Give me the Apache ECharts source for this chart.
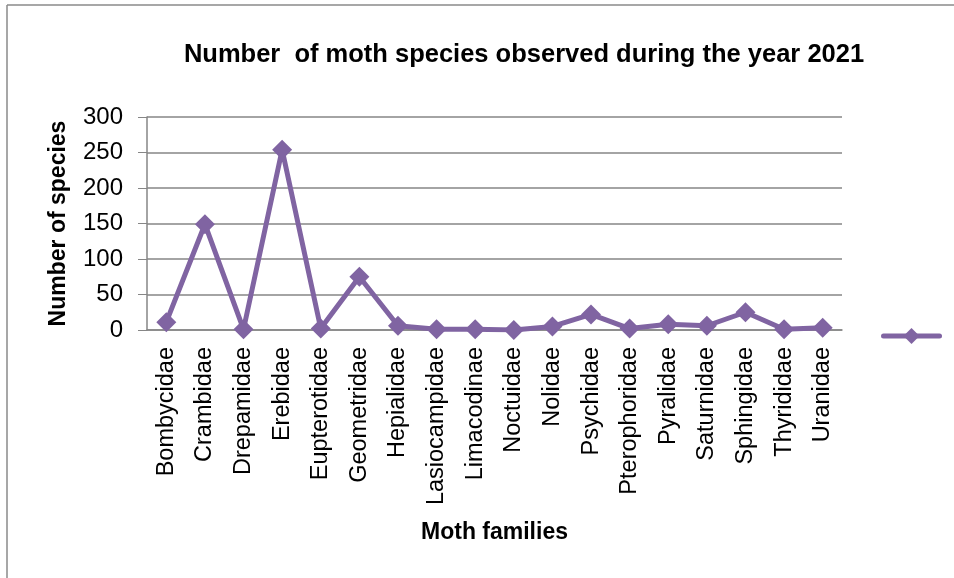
<!DOCTYPE html>
<html>
<head>
<meta charset="utf-8">
<script src="https://cdn.jsdelivr.net/npm/echarts@6/dist/echarts.min.js"></script>
<style>
  html, body { margin: 0; padding: 0; background: #ffffff; }
  #chart { width: 954px; height: 578px; }
</style>
</head>
<body>
<div id="chart"></div>
<script>
// Moth families recorded in 2021 and the number of species in each
const families = [
  'Bombycidae', 'Crambidae', 'Drepamidae', 'Erebidae', 'Eupterotidae',
  'Geometridae', 'Hepialidae', 'Lasiocampidae', 'Limacodinae', 'Noctuidae',
  'Nolidae', 'Psychidae', 'Pterophoridae', 'Pyralidae', 'Saturnidae',
  'Sphingidae', 'Thyrididae', 'Uranidae'
];
const speciesCounts = [11, 149, 1, 254, 2, 75, 6, 1, 1, 0, 5, 22, 2, 8, 6, 25, 1, 3];
const yTicks = [0, 50, 100, 150, 200, 250, 300];

const purple = '#8064A2';
const font = '"Liberation Sans", Arial, sans-serif';

const chart = echarts.init(document.getElementById('chart'), null, { renderer: 'canvas' });

chart.setOption({
  backgroundColor: '#ffffff',
  animation: false,
  title: {
    text: 'Number  of moth species observed during the year 2021',
    left: 519,
    textAlign: 'center',
    top: 37,
    textStyle: { fontFamily: font, fontWeight: 'bold', fontSize: 25.5, color: '#000' }
  },
  legend: {
    left: 876,
    top: 321,
    itemWidth: 56,
    itemHeight: 20,
    itemGap: 0,
    formatter: () => '',
    lineStyle: { width: 5, cap: 'round' },
    data: ['Species']
  },
  grid: { left: 147, right: 112, top: 117, bottom: 248, containLabel: false },
  xAxis: {
    type: 'category',
    data: families,
    boundaryGap: true,
    name: 'Moth families',
    nameLocation: 'middle',
    nameGap: 191,
    nameTextStyle: { fontFamily: font, fontWeight: 'bold', fontSize: 23, color: '#000' },
    axisLine: { lineStyle: { color: '#868686', width: 1.5 } },
    axisTick: { show: false },
    axisLabel: {
      rotate: 90,
      margin: 17,
      interval: 0,
      fontFamily: font,
      fontSize: 23.5,
      color: '#000'
    }
  },
  yAxis: {
    type: 'value',
    min: yTicks[0],
    max: yTicks[yTicks.length - 1],
    interval: yTicks[1] - yTicks[0],
    name: 'Number of species',
    nameLocation: 'middle',
    nameGap: 77,
    nameTextStyle: { fontFamily: font, fontWeight: 'bold', fontSize: 23, color: '#000' },
    axisLine: { show: true, lineStyle: { color: '#868686', width: 1.5 } },
    axisTick: { show: true, length: 9, lineStyle: { color: '#868686' } },
    splitLine: { lineStyle: { color: '#868686', width: 1.5 } },
    axisLabel: { margin: 24, fontFamily: font, fontSize: 24, color: '#000' }
  },
  series: [{
    name: 'Species',
    type: 'line',
    data: speciesCounts,
    symbol: 'diamond',
    symbolSize: 20,
    lineStyle: { color: purple, width: 5 },
    itemStyle: { color: purple }
  }],
  graphic: [
    { type: 'line', shape: { x1: 7, y1: 5, x2: 954, y2: 5 }, style: { stroke: '#8a8a8a', lineWidth: 1.5 } },
    { type: 'line', shape: { x1: 7, y1: 5, x2: 7, y2: 578 }, style: { stroke: '#8a8a8a', lineWidth: 1.5 } }
  ]
});
</script>
</body>
</html>
